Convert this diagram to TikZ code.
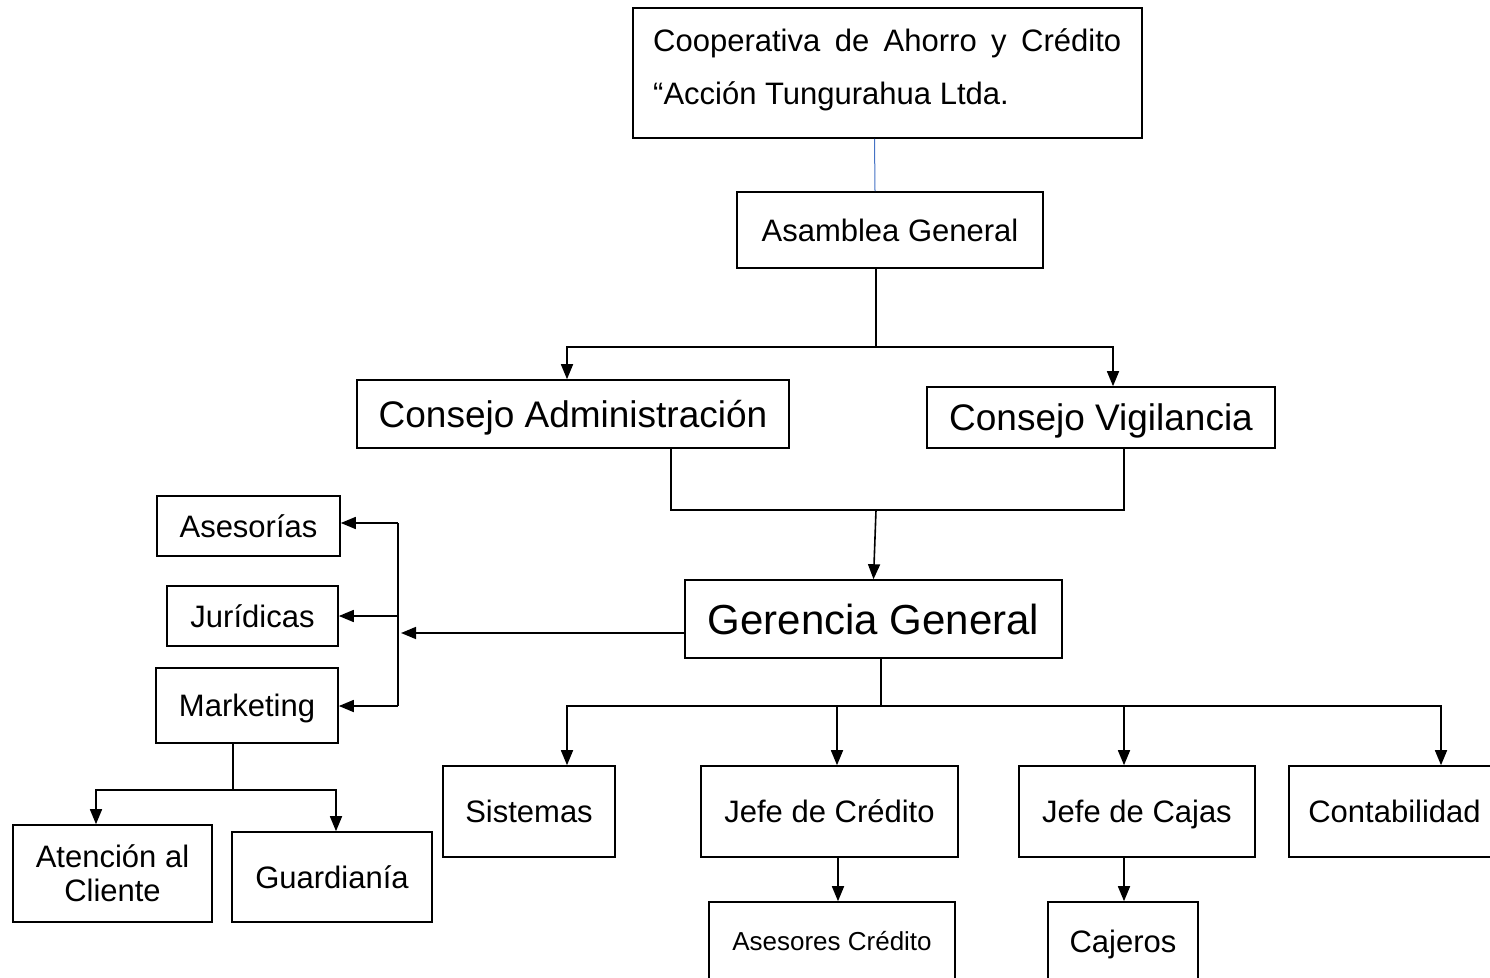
\documentclass[tikz,border=0pt]{standalone}
\usepackage{fontspec}
\setmainfont{Liberation Sans}
\usetikzlibrary{arrows.meta}
\definecolor{linkblue}{RGB}{68,114,196}

\begin{document}
\begin{tikzpicture}[
  x=1pt, y=-1pt,
  font=\fontsize{31}{34}\selectfont,
  box/.style={draw, line width=1.6pt, inner sep=0pt, align=center, text height=22pt, text depth=0pt},
  bigbox/.style={box, font=\fontsize{37}{44}\selectfont, text height=26.5pt},
  arr/.style={-{Triangle[length=15pt, width=12pt]}, line width=1.6pt},
  link/.style={line width=1.6pt}
]
\useasboundingbox (0,0) rectangle (1490,977);

% top of the chart
\node[box, minimum width=509pt, minimum height=130pt] (coop) at (887.5,73) {};
\node[anchor=base west, inner sep=0pt] (coopa) at (653,51) {\makebox[468pt][s]{Cooperativa de Ahorro y Crédito}};
\node[anchor=base west, inner sep=0pt] (coopb) at (653,104) {“Acción Tungurahua Ltda.};
\node[box, minimum width=306pt, minimum height=76pt] (asam) at (890,230) {Asamblea General};

\node[bigbox, minimum width=432pt, minimum height=68pt] (cadm) at (573,414) {Consejo Administración};
\node[bigbox, minimum width=348pt, minimum height=61pt] (cvig) at (1101,417.5) {Consejo Vigilancia};
\node[box, minimum width=377pt, minimum height=78pt, font=\fontsize{42}{50}\selectfont, text height=30pt] (ger) at (873.5,619) {Gerencia General};

% staff units on the left
\node[box, minimum width=183pt, minimum height=60pt] (ases) at (248.5,526) {Asesorías};
\node[box, minimum width=171pt, minimum height=60pt] (jur) at (252.5,616) {Jurídicas};
\node[box, minimum width=182pt, minimum height=75pt] (mkt) at (247,705.5) {Marketing};
\node[box, minimum width=199pt, minimum height=97pt, text height={}, text depth={}] (aten) at (112.5,873.5) {Atención al\\Cliente};
\node[box, minimum width=200pt, minimum height=90pt] (guard) at (332,877) {Guardianía};

% departments
\node[box, minimum width=172pt, minimum height=91pt] (sist) at (529,811.5) {Sistemas};
\node[box, minimum width=257pt, minimum height=91pt] (jcred) at (829.5,811.5) {Jefe de Crédito};
\node[box, minimum width=236pt, minimum height=91pt] (jcaj) at (1137,811.5) {Jefe de Cajas};
\node[box, minimum width=211pt, minimum height=91pt] (cont) at (1394.5,811.5) {Contabilidad};
\node[box, minimum width=246pt, minimum height=78pt, font=\fontsize{26}{30}\selectfont, text height=18.6pt] (aseso) at (832,941) {Asesores Crédito};
\node[box, minimum width=150pt, minimum height=78pt] (caj) at (1123,941) {Cajeros};

% junctions
\coordinate (ja) at (876,347);
\coordinate (jb) at (876,510);
\coordinate (jc) at (401,633);
\coordinate (bt) at (398,523);
\coordinate (bb) at (398,706);
\coordinate (jm) at (233,790);
\coordinate (jg) at (881,706);

\draw[link, linkblue, line width=1pt] ([xshift=-13pt]coop.south) -- ([xshift=-15pt]asam.north);
\draw[link] (asam.south -| ja) -- (ja);
\draw[arr] (ja) -| ([xshift=-6pt]cadm.north);
\draw[arr] (ja) -| ([xshift=12pt]cvig.north);
\draw[link] ([xshift=98pt]cadm.south) |- (jb) -| ([xshift=23pt]cvig.south);
\draw[arr] (jb) -- (ger.north);

\draw[arr] ([yshift=-14pt]ger.west) -- (jc);
\draw[link] (bt) -- (bb);
\draw[arr] (bt) -- (bt -| ases.east);
\draw[arr] (bt |- jur.east) -- (jur.east);
\draw[arr] (bb) -- (bb -| mkt.east);

\draw[link] ([xshift=-14pt]mkt.south) -- (jm);
\draw[arr] (jm) -| ([xshift=-16.5pt]aten.north);
\draw[arr] (jm) -| ([xshift=4pt]guard.north);

\draw[link] ([xshift=7.5pt]ger.south) -- (jg);
\draw[arr] (jg) -| ([xshift=38pt]sist.north);
\draw[arr] (jg) -| ([xshift=7.5pt]jcred.north);
\draw[arr] (jg) -| ([xshift=-13pt]jcaj.north);
\draw[arr] (jg) -| ([xshift=46.5pt]cont.north);

\draw[arr] ([xshift=8.5pt]jcred.south) -- ([xshift=6pt]aseso.north);
\draw[arr] ([xshift=-13pt]jcaj.south) -- ([xshift=1pt]caj.north);
\end{tikzpicture}
\end{document}
